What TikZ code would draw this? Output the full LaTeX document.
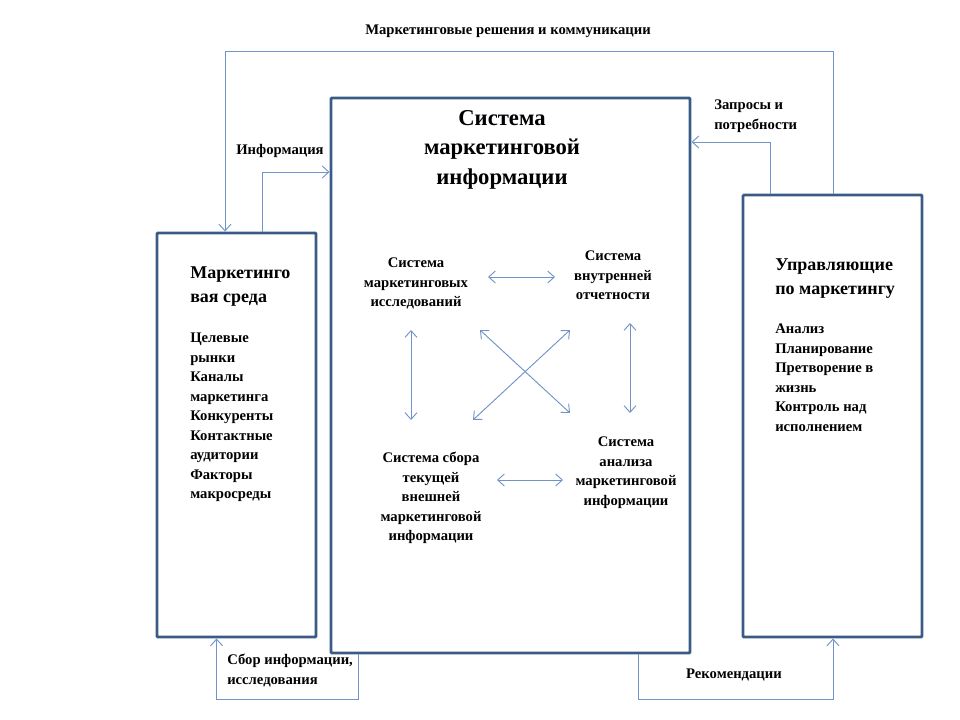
\documentclass[tikz,border=0pt]{standalone}
\usepackage{fontspec}
\setmainfont{Liberation Serif}
\usetikzlibrary{arrows.meta,calc,fit}
\definecolor{boxblue}{HTML}{3B5B87}
\definecolor{lineblue}{HTML}{7094C8}
\begin{document}
\begin{tikzpicture}[x=0.75pt,y=-0.75pt,
  bigbox/.style={draw=boxblue,line width=2.2pt,inner sep=0pt,rounded corners=0.8pt},
  conn/.style={draw=lineblue,line width=0.7pt},
  tip/.style={-{Straight Barb[length=5pt,width=9pt]}},
  dtip/.style={{Straight Barb[length=5pt,width=9pt]}-{Straight Barb[length=5pt,width=9pt]}},
  lbl/.style={font=\bfseries\fontsize{11}{14.6}\selectfont,inner sep=0pt},
  hdr/.style={font=\bfseries\fontsize{13.5}{18.5}\selectfont,inner sep=0pt,align=left},
  ttl/.style={font=\bfseries\fontsize{17}{22.2}\selectfont,inner sep=0pt,align=center}
]
\useasboundingbox (0,0) rectangle (960,720);

% boxes
\coordinate (e1) at (157,233); \coordinate (e2) at (316,637);
\coordinate (c1) at (331,98);  \coordinate (c2) at (690,653);
\coordinate (m1) at (743,195); \coordinate (m2) at (922,637);
\node[bigbox,fit=(e1)(e2)] (env) {};
\node[bigbox,fit=(c1)(c2)] (mis) {};
\node[bigbox,fit=(m1)(m2)] (mgr) {};

% center title
\node[ttl,anchor=north] (title) at (502,110) {Система\\маркетинговой\\информации};

% left box text
\node[hdr,anchor=north west] (envh) at (190,266) {Маркетинго\\вая среда};
\node[lbl,align=left,anchor=north west] (envl) at (190,333) {Целевые\\рынки\\Каналы\\маркетинга\\Конкуренты\\Контактные\\аудитории\\Факторы\\макросреды};

% right box text
\node[hdr,anchor=north west] (mgrh) at (775,258) {Управляющие\\по маркетингу};
\node[lbl,align=left,anchor=north west] (mgrl) at (775,324) {Анализ\\Планирование\\Претворение в\\жизнь\\Контроль над\\исполнением};

% inner subsystems
\node[lbl,align=center,anchor=north] (res) at (416,258) {Система\\маркетинговых\\исследований};
\node[lbl,align=center,anchor=north] (rep) at (613,251) {Система\\внутренней\\отчетности};
\node[lbl,align=center,anchor=north] (col) at (431,452) {Система сбора\\текущей\\внешней\\маркетинговой\\информации};
\node[lbl,align=center,anchor=north] (ana) at (626,437) {Система\\анализа\\маркетинговой\\информации};

% inner arrow ends
\coordinate (h1a) at (488,277); \coordinate (h1b) at (555,277);
\coordinate (v1a) at (411,330); \coordinate (v1b) at (411,420);
\coordinate (v2a) at (630,323); \coordinate (v2b) at (630,413);
\coordinate (d1a) at (480,330); \coordinate (d1b) at (570,413);
\coordinate (d2a) at (570,330); \coordinate (d2b) at (473,420);
\coordinate (h2a) at (497,480); \coordinate (h2b) at (563,480);
\draw[conn,dtip] (h1a) -- (h1b);
\draw[conn,dtip] (v1a) -- (v1b);
\draw[conn,dtip] (v2a) -- (v2b);
\draw[conn,dtip] (d1a) -- (d1b);
\draw[conn,dtip] (d2a) -- (d2b);
\draw[conn,dtip] (h2a) -- (h2b);

% outer connectors
\draw[conn,tip] ($(mgr.north)+(0.5,0)$) -- ++(0,-142.3) -| ($(env.north)+(-11.5,0)$);
\node[lbl,anchor=center] (lbltop) at (508,31) {Маркетинговые решения и коммуникации};

\draw[conn,tip] ($(env.north)+(25.5,0)$) |- (mis.west |- 0,172);
\node[lbl,anchor=center] (lblinfo) at (280,151) {Информация};

\draw[conn,tip] ($(mgr.north west)+(29,0)$) |- (mis.east |- 0,142);
\node[lbl,align=left,anchor=north west] (lblreq) at (714,100) {Запросы и\\потребности};

\draw[conn,tip] ($(mis.south west)+(29,0)$) -- ++(0,45) -| ($(env.south west)+(61,0)$);
\node[lbl,align=left,anchor=north west] (lblcoll) at (227,654) {Сбор информации,\\исследования};

\draw[conn,tip] ($(mis.south east)+(-53,0)$) -- ++(0,45) -| ($(mgr.south)+(0.5,0)$);
\node[lbl,anchor=center] (lblrec) at (734,675) {Рекомендации};
\end{tikzpicture}
\end{document}
